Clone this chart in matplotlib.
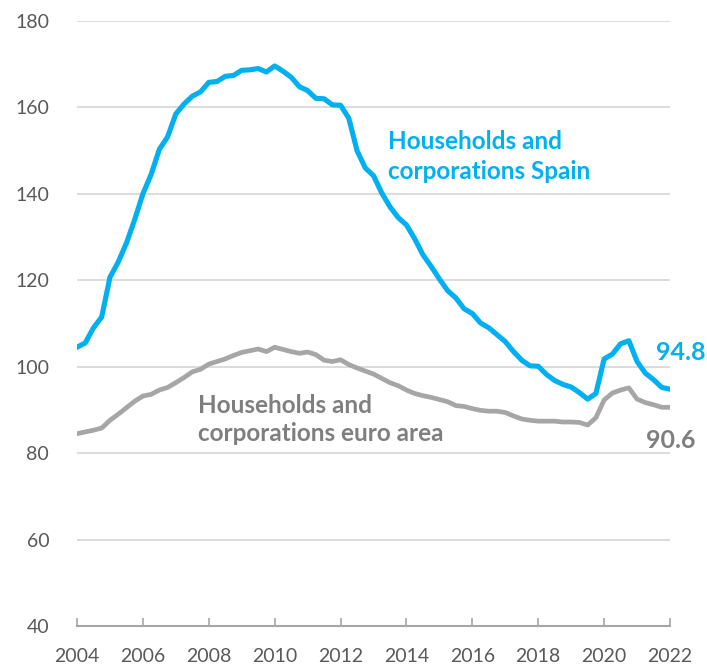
import matplotlib.pyplot as plt
import numpy as np

# Quarterly debt ratios, 2004Q1 - 2022Q1
start_year = 2004
spain = [104.5, 105.5, 109.0, 111.5, 120.7, 124.2, 128.6, 134.0,
         140.0, 144.5, 150.3, 153.2, 158.5, 160.8, 162.6, 163.6,
         165.8, 166.0, 167.2, 167.4, 168.6, 168.7, 169.0, 168.2,
         169.6, 168.4, 167.0, 164.8, 163.9, 162.1, 162.0, 160.6,
         160.5, 157.5, 150.0, 146.0, 144.2, 140.2, 137.0, 134.5,
         132.8, 129.6, 125.9, 123.2, 120.3, 117.6, 115.9, 113.4,
         112.3, 110.1, 109.0, 107.4, 105.8, 103.5, 101.5, 100.2,
         100.1, 98.2, 96.8, 95.9, 95.3, 94.0, 92.5, 93.8,
         101.8, 102.9, 105.3, 106.0, 101.2, 98.5, 97.0, 95.2,
         94.8]
euro_area = [84.5, 84.9, 85.3, 85.8, 87.6, 89.0, 90.5, 92.0,
             93.2, 93.6, 94.6, 95.2, 96.3, 97.5, 98.8, 99.4,
             100.6, 101.2, 101.8, 102.6, 103.3, 103.7, 104.1, 103.5,
             104.5, 104.0, 103.5, 103.1, 103.4, 102.8, 101.5, 101.2,
             101.6, 100.5, 99.7, 99.0, 98.3, 97.3, 96.3, 95.6,
             94.6, 93.8, 93.3, 92.9, 92.4, 91.9, 91.0, 90.8,
             90.3, 89.9, 89.7, 89.7, 89.4, 88.6, 87.9, 87.6,
             87.4, 87.4, 87.4, 87.2, 87.2, 87.1, 86.5, 88.2,
             92.3, 93.9, 94.6, 95.1, 92.5, 91.7, 91.2, 90.6,
             90.6]
year_ticks = list(range(2004, 2023, 2))
value_ticks = [40, 60, 80, 100, 120, 140, 160, 180]

BLUE = '#00B0F0'
GREY_LINE = '#A6A6A6'
GREY_TEXT = '#7F7F7F'
TICK_COLOR = '#595959'

plt.rcParams['font.family'] = ['Lato', 'DejaVu Sans']

quarters = start_year + np.arange(len(spain)) / 4

fig = plt.figure(figsize=(7.07, 6.71), dpi=100)
ax = fig.add_axes([0.1089, 0.0671, 0.8388, 0.9016])

ax.plot(quarters, euro_area, color=GREY_LINE, lw=3.4, solid_joinstyle='round', zorder=3)
ax.plot(quarters, spain, color=BLUE, lw=3.7, solid_joinstyle='round', zorder=4)

ax.set_xlim(2004, 2022)
ax.set_ylim(40, 180)
ax.set_xticks(year_ticks)
ax.set_yticks(value_ticks)
ax.grid(axis='y', color='#D9D9D9', lw=1.3, zorder=0)

for side in ['top', 'right', 'left']:
    ax.spines[side].set_visible(False)
ax.spines['bottom'].set_color(GREY_LINE)
ax.spines['bottom'].set_linewidth(1.5)

ax.tick_params(axis='x', direction='in', length=6, width=1.2, color=GREY_LINE,
               labelsize=14, labelcolor=TICK_COLOR, pad=16)
ax.tick_params(axis='y', length=0, labelsize=14, labelcolor=TICK_COLOR, pad=20)

# series labels
ax.text(2013.44, 154.8, 'Households and\ncorporations Spain', color=BLUE,
        fontsize=17.5, fontweight='bold', ha='left', va='top', linespacing=1.4)
ax.text(2007.67, 93.7, 'Households and\ncorporations euro area', color=GREY_TEXT,
        fontsize=17.5, fontweight='bold', ha='left', va='top', linespacing=1.25)

# last values
ax.text(2021.58, spain[-1] + 6.7, f'{spain[-1]:.1f}', color=BLUE,
        fontsize=18, fontweight='bold', ha='left', va='baseline', clip_on=False)
ax.text(2021.27, euro_area[-1] - 9.4, f'{euro_area[-1]:.1f}', color=GREY_TEXT,
        fontsize=18, fontweight='bold', ha='left', va='baseline', clip_on=False)

fig.savefig('out.png', dpi=100)
